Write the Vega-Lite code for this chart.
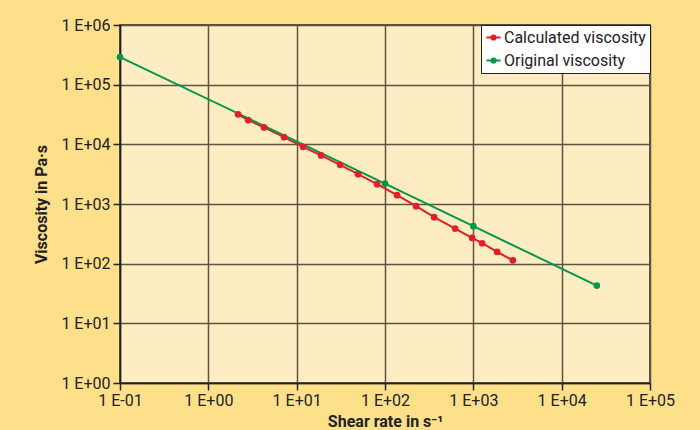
{
  "$schema": "https://vega.github.io/schema/vega-lite/v6.json",
  "width": 530,
  "height": 358,
  "autosize": {"type": "none"},
  "padding": {"left": 120, "top": 25, "right": 50, "bottom": 47},
  "background": "#fedf8a",
  "config": {
    "font": "Roboto, sans-serif",
    "view": {"fill": "#feedc3", "stroke": "#222222", "strokeWidth": 1.5}
  },
  "data": {
    "values": [
      {"series": "Calculated viscosity", "x": 2.17, "y": 31800},
      {"series": "Calculated viscosity", "x": 2.82, "y": 25500},
      {"series": "Calculated viscosity", "x": 4.27, "y": 19200},
      {"series": "Calculated viscosity", "x": 7.2, "y": 13200},
      {"series": "Calculated viscosity", "x": 11.8, "y": 9080},
      {"series": "Calculated viscosity", "x": 18.9, "y": 6520},
      {"series": "Calculated viscosity", "x": 31, "y": 4530},
      {"series": "Calculated viscosity", "x": 49.6, "y": 3160},
      {"series": "Calculated viscosity", "x": 81.4, "y": 2150},
      {"series": "Calculated viscosity", "x": 137, "y": 1406},
      {"series": "Calculated viscosity", "x": 225, "y": 919},
      {"series": "Calculated viscosity", "x": 360, "y": 601},
      {"series": "Calculated viscosity", "x": 622, "y": 388},
      {"series": "Calculated viscosity", "x": 969, "y": 270},
      {"series": "Calculated viscosity", "x": 1259, "y": 220},
      {"series": "Calculated viscosity", "x": 1862, "y": 157},
      {"series": "Calculated viscosity", "x": 2800, "y": 114},
      {"series": "Original viscosity", "x": 0.1, "y": 290000},
      {"series": "Original viscosity", "x": 100, "y": 2200},
      {"series": "Original viscosity", "x": 1000, "y": 425},
      {"series": "Original viscosity", "x": 25000, "y": 43}
    ]
  },
  "encoding": {
    "x": {
      "field": "x",
      "type": "quantitative",
      "scale": {"type": "log", "domain": [0.1, 100000], "nice": false},
      "axis": {
        "values": [0.1, 1, 10, 100, 1000, 10000, 100000],
        "labelExpr": "'1 E' + (datum.value < 1 ? '-' : '+') + (abs(round(log(datum.value)/LN10)) < 10 ? '0' : '') + abs(round(log(datum.value)/LN10))",
        "title": "Shear rate in s⁻¹",
        "titleFontSize": 16,
        "titleFontWeight": "bold",
        "titleColor": "#222222",
        "titlePadding": 5,
        "labelFontSize": 16,
        "labelColor": "#222222",
        "labelPadding": 2,
        "labelFlush": false,
        "labelOverlap": false,
        "tickSize": 7,
        "tickColor": "#222222",
        "tickWidth": 1.5,
        "domainColor": "#222222",
        "domainWidth": 1.5,
        "grid": true,
        "gridColor": "#5e5442",
        "gridWidth": 1.5,
        "gridOpacity": 1
      }
    },
    "y": {
      "field": "y",
      "type": "quantitative",
      "scale": {"type": "log", "domain": [1, 1000000], "nice": false},
      "axis": {
        "values": [1, 10, 100, 1000, 10000, 100000, 1000000],
        "labelExpr": "'1 E' + (datum.value < 1 ? '-' : '+') + (abs(round(log(datum.value)/LN10)) < 10 ? '0' : '') + abs(round(log(datum.value)/LN10))",
        "title": "Viscosity in Pa·s",
        "titleFontSize": 16,
        "titleFontWeight": "bold",
        "titleColor": "#222222",
        "titleX": -71,
        "labelFontSize": 16,
        "labelColor": "#222222",
        "labelPadding": 3,
        "labelFlush": false,
        "labelOverlap": false,
        "tickSize": 7,
        "tickColor": "#222222",
        "tickWidth": 1.5,
        "domainColor": "#222222",
        "domainWidth": 1.5,
        "grid": true,
        "gridColor": "#5e5442",
        "gridWidth": 1.5,
        "gridOpacity": 1
      }
    },
    "color": {
      "field": "series",
      "type": "nominal",
      "scale": {"domain": ["Calculated viscosity", "Original viscosity"], "range": ["#e31e26", "#00994a"]},
      "legend": {
        "title": null,
        "orient": "top-right",
        "offset": 0,
        "fillColor": "white",
        "strokeColor": "#222222",
        "padding": 4,
        "labelFontSize": 16,
        "labelColor": "#222222",
        "labelOffset": 2,
        "rowPadding": 6,
        "symbolType": "M-1,0L1,0M-0.3,0A0.3,0.3 0 1,1 0.3,0A0.3,0.3 0 1,1 -0.3,0Z",
        "symbolSize": 200,
        "symbolStrokeWidth": 2,
        "encode": {"symbols": {"update": {"fill": {"scale": "color", "field": "value"}, "fillOpacity": {"value": 1}}}}
      }
    }
  },
  "layer": [
    {"mark": {"type": "line", "strokeWidth": 2, "clip": false}},
    {"mark": {"type": "circle", "size": 45, "opacity": 1, "clip": false}}
  ]
}
